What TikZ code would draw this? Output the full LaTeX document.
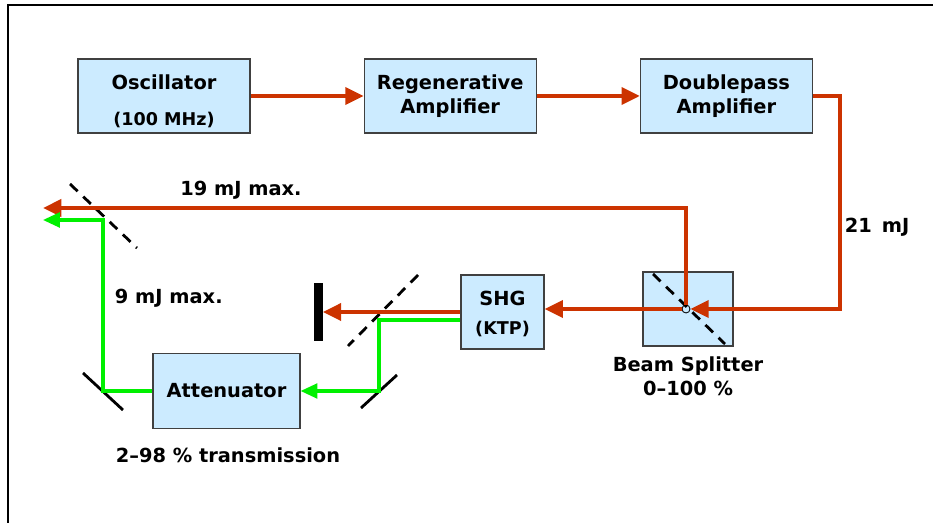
\documentclass[tikz,border=0pt]{standalone}
\usepackage{fontspec}
\setmainfont{DejaVu Sans}
\usetikzlibrary{arrows.meta,positioning}
\definecolor{beamred}{RGB}{204,51,0}
\definecolor{beamgreen}{RGB}{0,240,0}
\definecolor{boxblue}{RGB}{204,235,255}
\newcommand{\sm}{\fontsize{12.5}{14}\selectfont}
\begin{document}
\begin{tikzpicture}[x=0.025cm,y=-0.025cm,font=\fontsize{13.8}{17}\selectfont\bfseries,
  rec/.style={draw=black!75,line width=0.8pt,fill=boxblue,minimum width=4.3cm,minimum height=1.85cm,align=center,inner sep=0pt},
  redbeam/.style={draw=beamred,line width=2.8pt,-{Triangle[length=13pt,width=12pt]}},
  greenbeam/.style={draw=beamgreen,line width=2.2pt,-{Triangle[length=12pt,width=10.5pt]}},
  mirror/.style={line width=2pt},
  splitter/.style={line width=2pt,dash pattern=on 7.5pt off 5.5pt}]
\useasboundingbox (0,0) rectangle (933,523);
\draw[line width=2.1pt] (8,523) -- (8,5) -- (933,5);
% boxes
\node[rec] (osc) at (164,96) {\rule{0pt}{0.63cm}Oscillator\\[9pt]{\sm(100 MHz)}};
\node[rec,right=2.825cm of osc] (regen) {Regenerative\\Amplifier};
\node[rec,right=2.575cm of regen] (dpa) {Doublepass\\Amplifier};
\node[rec,minimum width=2.25cm] (bs) at (688,309) {};
\node[rec,minimum width=2.075cm] (shg) at (502.5,312) {\rule{0pt}{0.45cm}SHG\\[4pt]{\sm(KTP)}};
\node[rec,minimum width=3.675cm,minimum height=1.875cm] (att) at (226.5,391) {Attenuator};
\node[fill=black,minimum width=0.225cm,minimum height=1.425cm,inner sep=0pt] (dump) at (318,312) {};
\draw[splitter] (653,274) -- (725,344);
\node[circle,draw,line width=0.6pt,minimum size=0.2cm,inner sep=0pt] (spot) at (686,309) {};
% mirrors
\coordinate (m1) at (103,391);
\coordinate (m2) at (379,391);
\coordinate (d1) at (103,216);
\coordinate (d2) at (383,311);
\coordinate (out1) at (43,208);
\coordinate (out2) at (43,220);
\draw[mirror] ([shift={(-20,-18)}]m1) -- ([shift={(20,19)}]m1);
\draw[mirror] ([shift={(18,-16)}]m2) -- ([shift={(-18,17)}]m2);
\draw[splitter] ([shift={(-33,-32)}]d1) -- ([shift={(34,32)}]d1);
\draw[splitter] ([shift={(35,-36)}]d2) -- ([shift={(-35,35)}]d2);
% beams
\draw[redbeam] (osc) -- (regen);
\draw[redbeam] (regen) -- (dpa);
\draw[redbeam] (dpa.east) -- ++(27,0) |- (spot.east);
\draw[redbeam] (spot.north) |- (out1);
\draw[redbeam] (spot.west) -- (spot.west -| shg.east);
\draw[redbeam] (shg.west) -- (dump.east);
\draw[greenbeam] ([yshift=-0.2cm]shg.west) -| (m2) -- (att.east);
\draw[greenbeam] (att.west) -- (m1) |- (out2);
% labels
\node (l19) at (241,190) {19 mJ max.};
\node[anchor=west] (l9) at (110,298) {9 mJ max.};
\node[anchor=west] (l21) at (840,227) {21\,\ mJ};
\node[align=center] (lbs) at (688,376) {Beam Splitter\\0–100 \%};
\node (latt) at (228,455) {2–98 \% transmission};
\end{tikzpicture}
\end{document}
